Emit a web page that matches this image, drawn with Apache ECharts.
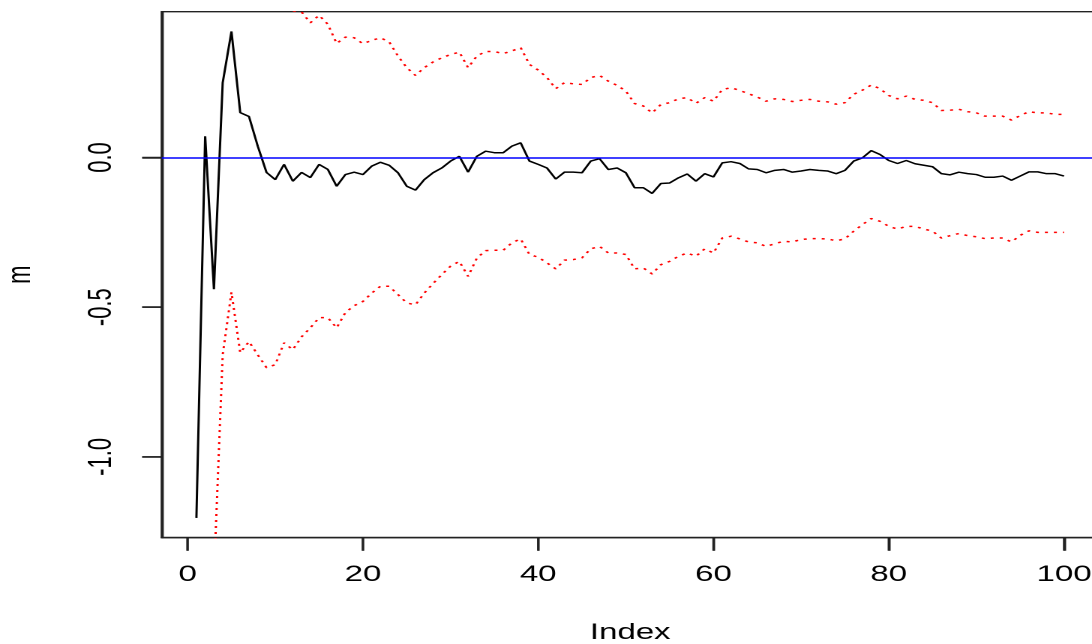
<!DOCTYPE html>
<html>
<head>
<meta charset="utf-8">
<script src="https://cdn.jsdelivr.net/npm/echarts@6/dist/echarts.min.js"></script>
<style>
html,body{margin:0;padding:0;background:#fff;overflow:hidden;}
#wrap{position:absolute;left:0;top:0;width:1092px;height:644px;overflow:hidden;background:#fff;}
#c{position:absolute;left:0;top:0;width:740px;height:644px;transform:scaleX(1.5);transform-origin:0 0;}
</style>
</head>
<body>
<div id="wrap"><div id="c"></div></div>
<script>
// running mean m (index 1..100)
var meanValues = [
 -1.204, 0.071, -0.44, 0.25, 0.421, 0.15, 0.137, 0.038, -0.05, -0.074,
 -0.023, -0.079, -0.05, -0.067, -0.023, -0.04, -0.096, -0.057, -0.049, -0.057,
 -0.029, -0.016, -0.026, -0.051, -0.096, -0.109, -0.074, -0.051, -0.035, -0.012,
 0.004, -0.049, 0.004, 0.021, 0.016, 0.016, 0.038, 0.049, -0.012, -0.023,
 -0.035, -0.072, -0.049, -0.049, -0.051, -0.012, -0.004, -0.040, -0.035, -0.051,
 -0.101, -0.101, -0.120, -0.087, -0.085, -0.068, -0.055, -0.079, -0.054, -0.065,
 -0.018, -0.014, -0.020, -0.038, -0.040, -0.051, -0.043, -0.040, -0.049, -0.045,
 -0.040, -0.043, -0.045, -0.054, -0.043, -0.012, -0.001, 0.023, 0.010, -0.010,
 -0.020, -0.010, -0.021, -0.026, -0.031, -0.054, -0.058, -0.049, -0.054, -0.057,
 -0.066, -0.066, -0.062, -0.076, -0.062, -0.048, -0.048, -0.054, -0.054, -0.062
];
// upper band
var upperValues = [
 null, 2.6, 0.52, 1.16, 1.29, 0.95, 0.89, 0.735, 0.60, 0.544,
 0.573, 0.49, 0.486, 0.450, 0.475, 0.445, 0.381, 0.402, 0.400, 0.380,
 0.391, 0.400, 0.386, 0.339, 0.300, 0.274, 0.300, 0.319, 0.333, 0.344,
 0.352, 0.300, 0.339, 0.354, 0.354, 0.347, 0.356, 0.367, 0.311, 0.292,
 0.267, 0.230, 0.250, 0.246, 0.244, 0.267, 0.274, 0.255, 0.241, 0.222,
 0.180, 0.172, 0.149, 0.177, 0.183, 0.196, 0.200, 0.181, 0.200, 0.188,
 0.227, 0.233, 0.224, 0.213, 0.202, 0.188, 0.196, 0.194, 0.187, 0.191,
 0.194, 0.188, 0.186, 0.178, 0.183, 0.211, 0.225, 0.242, 0.230, 0.207,
 0.196, 0.205, 0.194, 0.191, 0.183, 0.157, 0.158, 0.161, 0.153, 0.149,
 0.138, 0.138, 0.138, 0.125, 0.140, 0.153, 0.149, 0.149, 0.144, 0.144
];
// lower band
var lowerValues = [
 null, -2.46, -1.40, -0.659, -0.45, -0.652, -0.615, -0.659, -0.702, -0.692,
 -0.619, -0.642, -0.599, -0.569, -0.535, -0.535, -0.569, -0.518, -0.495, -0.481,
 -0.453, -0.430, -0.430, -0.458, -0.486, -0.492, -0.453, -0.421, -0.391, -0.363,
 -0.347, -0.397, -0.336, -0.311, -0.310, -0.310, -0.285, -0.272, -0.324, -0.333,
 -0.352, -0.372, -0.343, -0.341, -0.335, -0.305, -0.297, -0.319, -0.319, -0.324,
 -0.372, -0.369, -0.389, -0.358, -0.347, -0.330, -0.319, -0.330, -0.305, -0.319,
 -0.269, -0.263, -0.272, -0.282, -0.285, -0.297, -0.288, -0.280, -0.282, -0.274,
 -0.271, -0.271, -0.272, -0.278, -0.272, -0.246, -0.224, -0.204, -0.213, -0.230,
 -0.239, -0.230, -0.230, -0.239, -0.246, -0.269, -0.261, -0.254, -0.261, -0.265,
 -0.271, -0.269, -0.269, -0.282, -0.260, -0.245, -0.250, -0.250, -0.250, -0.250
];
var xTicks = [0, 20, 40, 60, 80, 100];
var yTicks = [-1.0, -0.5, 0.0];
var refLevel = 0;

var X_MIN = -2.96, X_MAX = 103.96, Y_MIN = -1.27, Y_MAX = 0.487;

function pairs(vals) {
  var out = [];
  for (var i = 0; i < vals.length; i++) out.push([i + 1, vals[i]]);
  return out;
}

var chart = echarts.init(document.getElementById('c'), null, {renderer: 'canvas', devicePixelRatio: 2});
var FONT = 'Liberation Sans, Arial, sans-serif';
chart.setOption({
  animation: false,
  grid: {
    left: 107.8, top: 11.7, width: 624.7, height: 526,
    outerBoundsMode: 'none',
    show: true, borderColor: '#222', borderWidth: 1.4
  },
  xAxis: {
    type: 'value', min: X_MIN, max: X_MAX,
    name: 'Index', nameLocation: 'middle', nameGap: 84,
    nameTextStyle: {fontFamily: FONT, fontSize: 22, color: '#000'},
    axisLine: {show: true, onZero: false, lineStyle: {color: '#222', width: 1.4}},
    axisTick: {show: true, customValues: xTicks, length: 13, lineStyle: {color: '#222', width: 1.5}},
    axisLabel: {show: true, customValues: xTicks, margin: 26, fontFamily: FONT, fontSize: 22, color: '#000'},
    splitLine: {show: false}
  },
  yAxis: {
    type: 'value', min: Y_MIN, max: Y_MAX,
    name: 'm', nameLocation: 'middle', nameGap: 83, nameRotate: 90,
    nameTextStyle: {fontFamily: FONT, fontSize: 22, color: '#000'},
    axisLine: {show: true, onZero: false, lineStyle: {color: '#222', width: 1.4}},
    axisTick: {show: true, customValues: yTicks, length: 13, lineStyle: {color: '#222', width: 1.5}},
    axisLabel: {show: true, customValues: yTicks, rotate: 90, margin: 29, fontFamily: FONT, fontSize: 22, color: '#000',
      formatter: function (v) { return v.toFixed(1); }},
    splitLine: {show: false}
  },
  series: [
    {
      type: 'line', data: pairs(meanValues), showSymbol: false, symbol: 'none',
      lineStyle: {color: '#000', width: 1.5}, z: 3, clip: true
    },
    {
      type: 'line', data: pairs(upperValues), showSymbol: false, symbol: 'none', connectNulls: false,
      lineStyle: {color: '#ff0000', width: 1.5, type: [2, 4]}, z: 4, clip: true
    },
    {
      type: 'line', data: pairs(lowerValues), showSymbol: false, symbol: 'none', connectNulls: false,
      lineStyle: {color: '#ff0000', width: 1.5, type: [2, 4]}, z: 4, clip: true
    },
    {
      type: 'line', data: [], z: 5,
      markLine: {
        silent: true, symbol: ['none', 'none'], label: {show: false},
        lineStyle: {color: '#0000ff', width: 1.5, type: 'solid'},
        data: [{yAxis: refLevel}]
      }
    }
  ]
});

// Outward tick marks placed through the chart's own axis scales
var TICK_LEN = 13;
var tickEls = [];
xTicks.forEach(function (v) {
  var p = chart.convertToPixel({gridIndex: 0}, [v, Y_MIN]);
  tickEls.push({
    type: 'line', z: 100, silent: true,
    shape: {x1: p[0], y1: p[1], x2: p[0], y2: p[1] + TICK_LEN},
    style: {stroke: '#222', lineWidth: 1.5}
  });
});
yTicks.forEach(function (v) {
  var p = chart.convertToPixel({gridIndex: 0}, [X_MIN, v]);
  tickEls.push({
    type: 'line', z: 100, silent: true,
    shape: {x1: p[0] - TICK_LEN, y1: p[1], x2: p[0], y2: p[1]},
    style: {stroke: '#222', lineWidth: 1.5}
  });
});
chart.setOption({graphic: {elements: tickEls}});
</script>
</body>
</html>
